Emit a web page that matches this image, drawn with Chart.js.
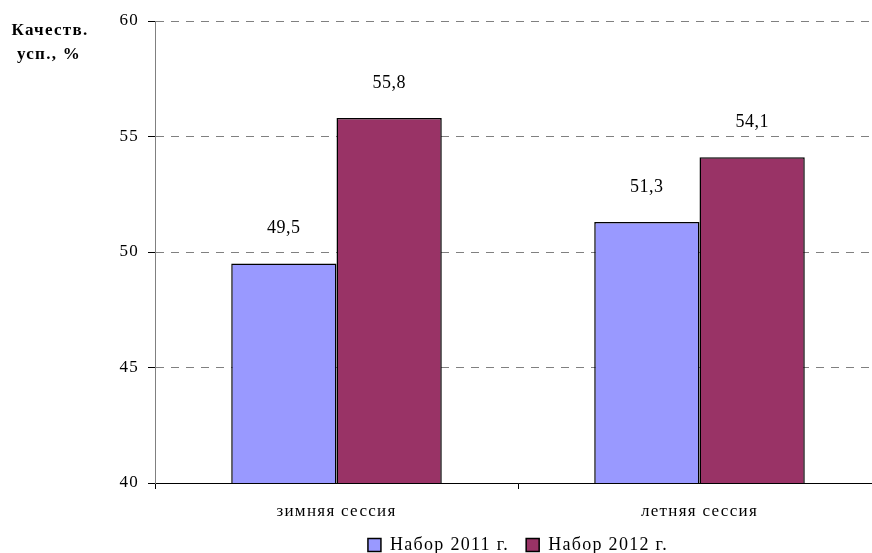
<!DOCTYPE html>
<html>
<head>
<meta charset="utf-8">
<script src="https://cdn.jsdelivr.net/npm/chart.js@4"></script>
<style>
    html, body { margin: 0; padding: 0; background: #fff; overflow: hidden; }
    #wrap { position: relative; width: 882px; height: 564px; }
</style>
</head>
<body>
<div id="wrap"><canvas id="chart"></canvas></div>
<script>
// chart data
const categories = ['зимняя сессия', 'летняя сессия'];
const seriesNames = ['Набор 2011 г.', 'Набор 2012 г.'];
const values2011 = [49.5, 51.3];
const values2012 = [55.8, 54.1];
const yTicks = [40, 45, 50, 55, 60];

const serif = "'Liberation Serif', 'Times New Roman', serif";

// the original text is rendered a bit wide, so add some letter spacing
const wideText = {
    id: 'wideText',
    beforeUpdate(chart) { chart.ctx.letterSpacing = '1.3px'; },
    beforeDraw(chart) { chart.ctx.letterSpacing = '1.3px'; }
};

// value labels above the bars, decimal comma
const barLabels = {
    id: 'barLabels',
    afterDatasetsDraw(chart) {
        const ctx = chart.ctx;
        ctx.save();
        ctx.letterSpacing = '0.5px';
        ctx.font = '18px ' + serif;
        ctx.fillStyle = '#000';
        ctx.textAlign = 'center';
        ctx.textBaseline = 'middle';
        chart.data.datasets.forEach((ds, i) => {
            chart.getDatasetMeta(i).data.forEach((bar, j) => {
                ctx.fillText(String(ds.data[j]).replace('.', ','), bar.x, bar.y - 35);
            });
        });
        ctx.restore();
    }
};

// y axis title in the top left corner
const axisTitle = {
    id: 'axisTitle',
    afterDraw(chart) {
        const ctx = chart.ctx;
        ctx.save();
        ctx.letterSpacing = '1.3px';
        ctx.font = 'bold 17px ' + serif;
        ctx.fillStyle = '#000';
        ctx.textAlign = 'center';
        ctx.textBaseline = 'middle';
        ctx.fillText('Качеств.', 50, 31);
        ctx.fillText('усп., %', 49, 55);
        ctx.restore();
    }
};

new Chart(document.getElementById('chart'), {
    type: 'bar',
    data: {
        labels: categories,
        datasets: [
            {
                label: seriesNames[0],
                data: values2011,
                backgroundColor: '#9999FF',
                borderColor: '#000',
                borderWidth: 1.5
            },
            {
                label: seriesNames[1],
                data: values2012,
                backgroundColor: '#993366',
                borderColor: '#000',
                borderWidth: 1.5
            }
        ]
    },
    options: {
        responsive: true,
        maintainAspectRatio: false,
        animation: false,
        categoryPercentage: 0.58,
        barPercentage: 1,
        layout: { padding: { top: 21, right: 1, bottom: 0 } },
        plugins: {
            legend: {
                position: 'bottom',
                fullSize: false,
                labels: {
                    boxWidth: 13,
                    boxHeight: 13,
                    padding: 17,
                    color: '#000',
                    font: { family: serif, size: 18 }
                }
            },
            tooltip: { enabled: false }
        },
        scales: {
            x: {
                grid: {
                    drawOnChartArea: false,
                    color: '#000',
                    tickLength: 6
                },
                border: { color: '#000', width: 1 },
                ticks: {
                    color: '#000',
                    padding: 12,
                    font: { family: serif, size: 17 }
                },
                afterFit(s) { s.height = 36; }
            },
            y: {
                min: 40,
                max: 60,
                afterBuildTicks(s) { s.ticks = yTicks.map(v => ({ value: v })); },
                grid: {
                    color: '#808080',
                    tickBorderDash: [],
                    tickColor: '#000',
                    tickLength: 7
                },
                border: { color: '#808080', width: 1, dash: [8, 7] },
                ticks: {
                    color: '#000',
                    padding: 9,
                    font: { family: serif, size: 17 }
                },
                afterFit(s) { s.width = 155; }
            }
        }
    },
    plugins: [wideText, barLabels, axisTitle]
});
</script>
</body>
</html>
